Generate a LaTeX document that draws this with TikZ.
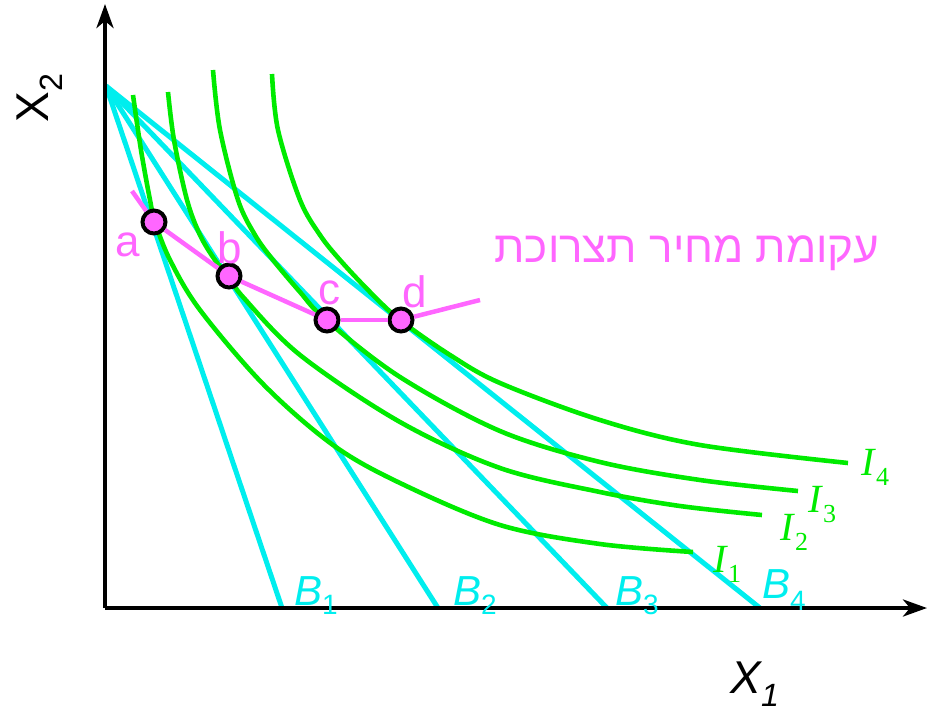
\documentclass[tikz,border=0pt]{standalone}
\usepackage{fontspec}
\setmainfont{Liberation Sans}
\newfontfamily\serifI{Liberation Serif}
\newfontfamily\hebfont[Script=Hebrew]{Liberation Sans}
\TeXXeTstate=1
\usetikzlibrary{arrows.meta}
\definecolor{icgreen}{RGB}{0,235,0}
\definecolor{bcyan}{RGB}{0,238,238}
\definecolor{dpink}{RGB}{255,102,255}
\newcommand{\lowsub}[3]{\raisebox{-#1pt}{\fontsize{#2}{#2}\selectfont #3}}
\begin{document}
\begin{tikzpicture}[x=1pt,y=-1pt,
  axis/.style={line width=4pt,-{Stealth[length=24pt,width=17pt,inset=7pt]}},
  budget/.style={bcyan,line width=5pt},
  icurve/.style={icgreen,line width=4.6pt,smooth,tension=0.55},
  demand/.style={dpink,line width=4.5pt,line join=round},
  dpt/.style={circle,draw=black,fill=dpink,line width=4pt,minimum size=23pt,inner sep=0pt},
  ptlab/.style={dpink,anchor=base,inner sep=0pt,font=\fontsize{44}{44}\selectfont},
  blab/.style={bcyan,anchor=base west,inner sep=0pt,font=\fontsize{42}{42}\selectfont},
  ilab/.style={icgreen,anchor=base west,inner sep=0pt,font=\fontsize{40}{40}\selectfont\serifI}]
\path[use as bounding box] (0,0) rectangle (929,713);
% coordinates
\coordinate (O) at (105,608);
\coordinate (ytop) at (105,4);
\coordinate (xend) at (927,608);
\coordinate (apex) at (106,86);
\coordinate (B1) at (282,608);
\coordinate (B2) at (438,608);
\coordinate (B3) at (607,608);
\coordinate (B4) at (760,608);
% budget lines
\draw[budget] (apex) -- (B1);
\draw[budget] (apex) -- (B2);
\draw[budget] (apex) -- (B3);
\draw[budget] (apex) -- (B4);
% indifference curves
\draw[icurve] plot coordinates {(133,95) (141,150) (150,200) (155,222) (170,260) (200,310) (264,385) (333,445) (400,483) (500,525) (600,544) (693,552)};
\draw[icurve] plot coordinates {(168,92) (174,140) (187,200) (200,235) (215,260) (230,278) (243,297) (300,355) (400,422) (500,468) (600,492) (680,506) (762,515)};
\draw[icurve] plot coordinates {(213,70) (220,130) (238,200) (255,235) (273,260) (300,292) (326,320) (400,377) (500,431) (600,462) (700,480) (798,491)};
\draw[icurve] plot coordinates {(272,74) (278,130) (300,200) (320,235) (340,260) (370,292) (400,320) (450,355) (500,383) (600,420) (700,445) (848,463)};
% axes
\draw[axis] (O) -- (ytop);
\draw[axis] (O) -- (xend);
% demand curve points
\coordinate (ds) at (132,191);
\coordinate (de) at (480,300);
\node[dpt] (a) at (154,222) {};
\node[dpt] (b) at (229,276) {};
\node[dpt] (c) at (327,320) {};
\node[dpt] (d) at (401,320) {};
\draw[demand] (ds) -- (a);
\draw[demand] (a) -- (b);
\draw[demand] (b) -- (c);
\draw[demand] (c) -- (d);
\draw[demand] (d) -- (de);
% labels
\node[ptlab] (la) at (128,256) {a};
\node[ptlab] (lb) at (230,263) {b};
\node[ptlab] (lc) at (329,304) {c};
\node[ptlab] (ld) at (415,307) {d};
\node[dpink,anchor=base,inner sep=0pt,font=\fontsize{44}{44}\selectfont\hebfont] (heb) at (687,262) {\beginR עקומת מחיר תצרוכת\endR};
\node[blab] (lB1) at (294,605) {\textit{B}\lowsub{9}{28}{1}};
\node[blab] (lB2) at (453,605) {\textit{B}\lowsub{9}{28}{2}};
\node[blab] (lB3) at (615,605) {\textit{B}\lowsub{9}{28}{3}};
\node[blab] (lB4) at (762,598) {\textit{B}\lowsub{12}{28}{4}};
\node[ilab] (lI1) at (713,572) {\textit{I}\lowsub{10}{26}{1}};
\node[ilab] (lI2) at (780,540) {\textit{I}\lowsub{10}{26}{2}};
\node[ilab] (lI3) at (808,512) {\textit{I}\lowsub{10}{26}{3}};
\node[ilab] (lI4) at (861,475) {\textit{I}\lowsub{10}{26}{4}};
\node[font=\fontsize{46}{46}\selectfont,rotate=90] (lx2) at (40,98) {X\textsubscript{2}};
\node[font=\fontsize{46}{46}\selectfont] (lx1) at (755,684) {\textit{X\textsubscript{1}}};
\end{tikzpicture}
\end{document}
